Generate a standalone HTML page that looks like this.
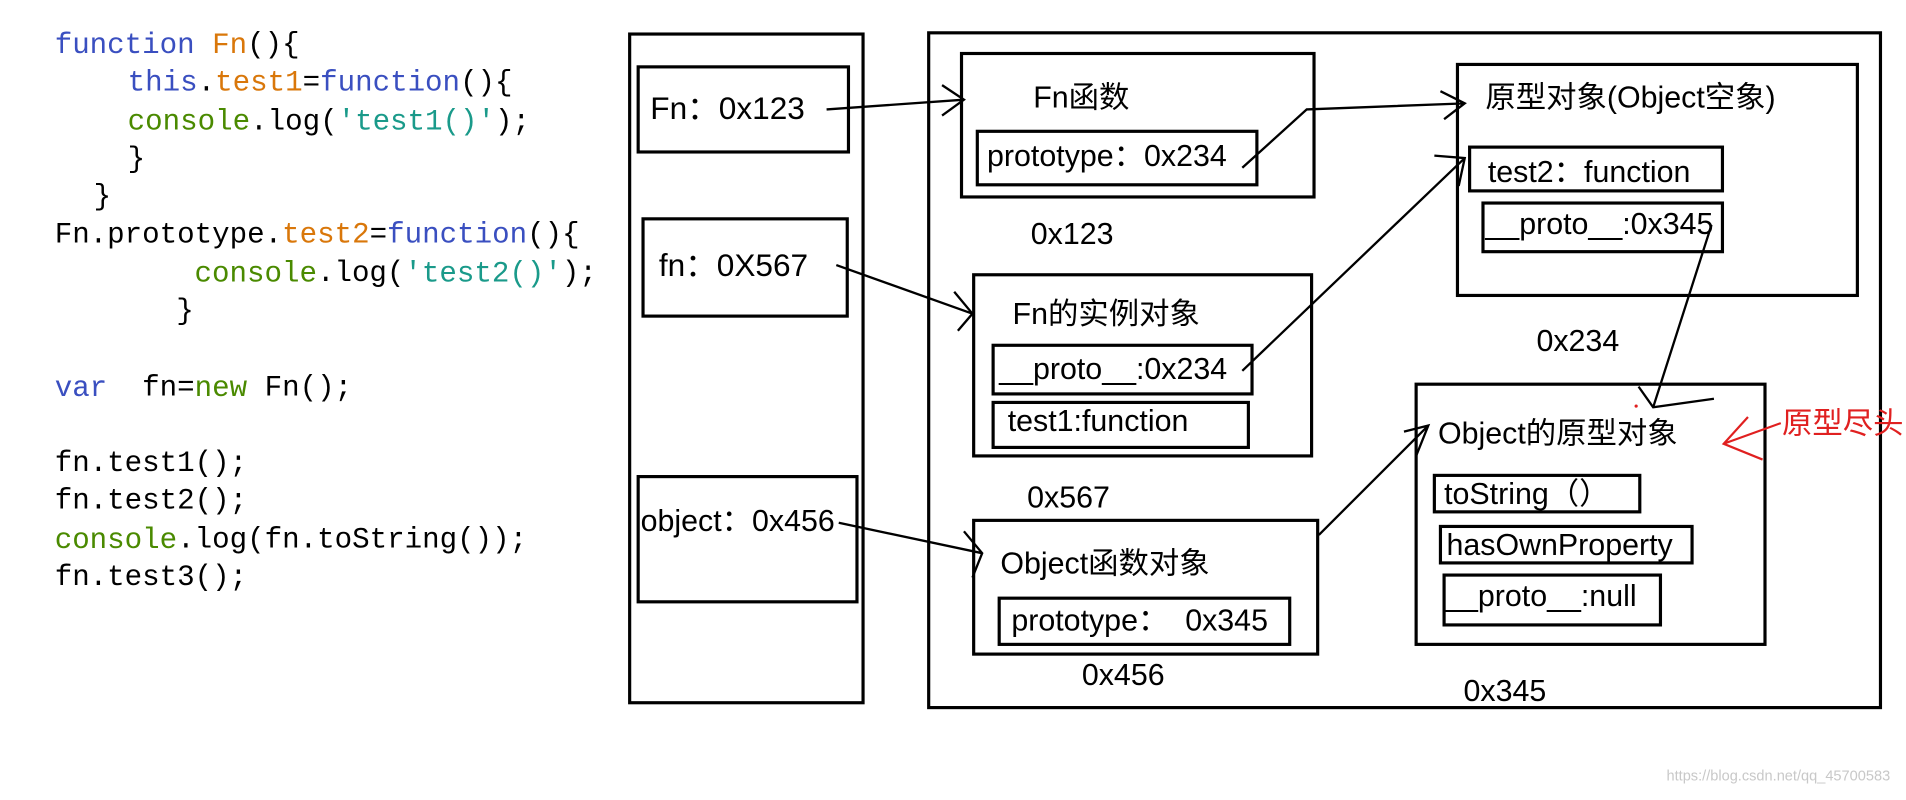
<!DOCTYPE html>
<html><head><meta charset="utf-8"><style>
html,body{margin:0;padding:0;background:#fff;}
svg{display:block}
text{white-space:pre}
.c{font-family:"Liberation Mono",monospace;font-size:24px;}
.t{font-family:"Liberation Sans","Noto Sans CJK SC",sans-serif;font-size:25px;fill:#000}
</style></head><body>
<svg width="1906" height="800" viewBox="0 0 1568 658" preserveAspectRatio="none" xmlns="http://www.w3.org/2000/svg" xml:space="preserve">
<rect width="1568" height="658" fill="#fff"/>
<g class="c" dominant-baseline="middle">
<text x="45" y="37"><tspan fill="#3a4fc0">function</tspan> <tspan fill="#d9770a">Fn</tspan>(){</text>
<text x="105" y="68"><tspan fill="#3a4fc0">this</tspan>.<tspan fill="#d9770a">test1</tspan>=<tspan fill="#3a4fc0">function</tspan>(){</text>
<text x="105" y="100"><tspan fill="#4a8a00">console</tspan>.log(<tspan fill="#1a9a8a">'test1()'</tspan>);</text>
<text x="105" y="131">}</text>
<text x="77" y="162">}</text>
<text x="45" y="193">Fn.prototype.<tspan fill="#d9770a">test2</tspan>=<tspan fill="#3a4fc0">function</tspan>(){</text>
<text x="160" y="225"><tspan fill="#4a8a00">console</tspan>.log(<tspan fill="#1a9a8a">'test2()'</tspan>);</text>
<text x="145" y="256">}</text>
<text x="45" y="319"><tspan fill="#3a4fc0">var</tspan>  fn=<tspan fill="#4a8a00">new</tspan> Fn();</text>
<text x="45" y="381">fn.test1();</text>
<text x="45" y="412">fn.test2();</text>
<text x="45" y="444"><tspan fill="#4a8a00">console</tspan>.log(fn.toString());</text>
<text x="45" y="475">fn.test3();</text>
</g>
<g fill="none" stroke="#000" stroke-width="2.6">
<rect x="518" y="28" width="192" height="550"/>
<rect x="525" y="55" width="173" height="70"/>
<rect x="529" y="180" width="168" height="80"/>
<rect x="525" y="392" width="180" height="103"/>
<rect x="764" y="27" width="783" height="555"/>
<rect x="791" y="44" width="290" height="118"/>
<rect x="804" y="108" width="230" height="44"/>
<rect x="801" y="226" width="278" height="149"/>
<rect x="817" y="284" width="213" height="40"/>
<rect x="817" y="331" width="210" height="37"/>
<rect x="801" y="428" width="283" height="110"/>
<rect x="822" y="492" width="239" height="38"/>
<rect x="1199" y="53" width="329" height="190"/>
<rect x="1209" y="121" width="208" height="36"/>
<rect x="1220" y="167" width="197" height="40"/>
<rect x="1165" y="316" width="287" height="214"/>
<rect x="1180" y="391" width="169" height="30"/>
<rect x="1185" y="433" width="207" height="30"/>
<rect x="1188" y="473" width="178" height="41"/>
</g>
<g class="t" dominant-baseline="middle">
<text x="535" y="91" font-size="26">Fn：0x123</text>
<text x="542" y="220" font-size="26">fn：0X567</text>
<text x="527" y="430">object：0x456</text>
<text x="850" y="82">Fn函数</text>
<text x="812" y="130">prototype：0x234</text>
<text x="848" y="194">0x123</text>
<text x="833" y="260">Fn的实例对象</text>
<text x="822" y="305">__proto__:0x234</text>
<text x="829" y="348">test1:function</text>
<text x="845" y="411">0x567</text>
<text x="823" y="465">Object函数对象</text>
<text x="832" y="512">prototype：  0x345</text>
<text x="890" y="557">0x456</text>
<text x="1222" y="82">原型对象(Object空象)</text>
<text x="1224" y="143">test2：function</text>
<text x="1222" y="186">__proto__:0x345</text>
<text x="1264" y="282">0x234</text>
<text x="1183" y="358">Object的原型对象</text>
<text x="1188" y="408">toString（）</text>
<text x="1190" y="450">hasOwnProperty</text>
<text x="1188" y="492">__proto__:null</text>
<text x="1204" y="570">0x345</text>
<text x="1466" y="350" style="fill:#e02020">原型尽头</text>
</g>
<text x="1555" y="642" text-anchor="end" font-family="Liberation Sans,sans-serif" font-size="12" fill="#c8c8c8">https://blog.csdn.net/qq_45700583</text>
<g fill="none" stroke="#000" stroke-width="1.9">
<path d="M680 90 L793 82 M775 70 L793 82 L775 95"/>
<path d="M688 218 L800 258 M785 240 L800 258 L788 272"/>
<path d="M690 430 L808 455 M793 437 L808 455 L800 475"/>
<path d="M1022 138 L1075 90 L1205 85 M1185 75 L1205 85 L1188 98"/>
<path d="M1022 305 L1205 130 M1180 128 L1205 130 L1200 153"/>
<path d="M1408 185 L1360 335 M1348 318 L1360 335 L1410 328"/>
<path d="M1085 440 L1175 350 M1155 355 L1175 350 L1165 375"/>
</g>
<path d="M1465 348 L1418 365 M1438 343 L1418 365 L1450 378" fill="none" stroke="#e02020" stroke-width="1.8"/>
<circle cx="1346" cy="334" r="1.3" fill="#e02020"/>
</svg>
</body></html>
